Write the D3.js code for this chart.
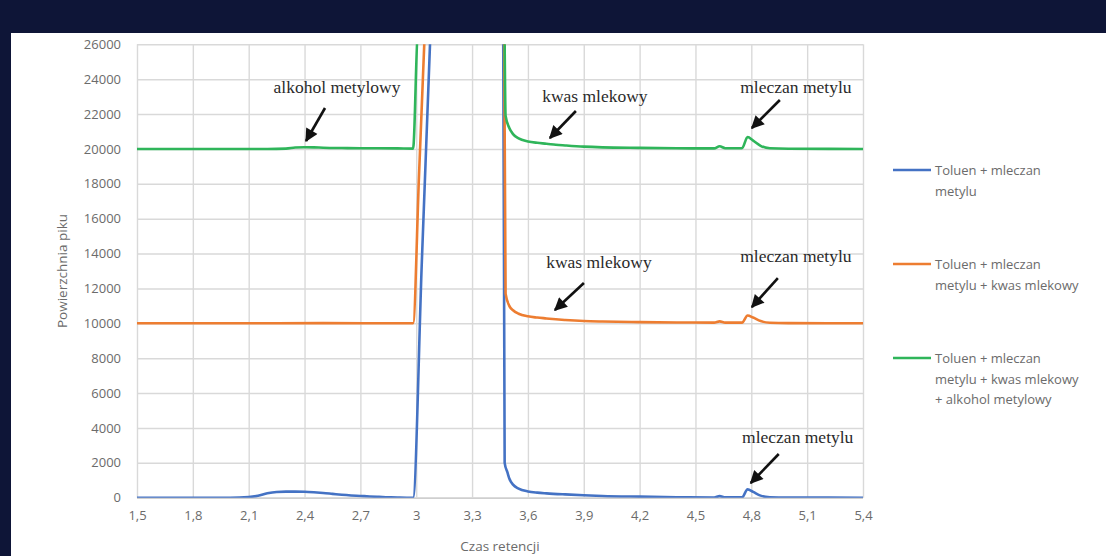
<!DOCTYPE html>
<html>
<head>
<meta charset="utf-8">
<script src="https://cdn.jsdelivr.net/npm/d3@7"></script>
<style>
    body { margin: 0; background: #0e1537; }
    svg { display: block; }
</style>
</head>
<body>
<div id="chart"></div>
<script>
//Data: retention time (min) and peak area for each sample
var seriesNames = [
    ["Toluen + mleczan", "metylu"],
    ["Toluen + mleczan", "metylu + kwas mlekowy"],
    ["Toluen + mleczan", "metylu + kwas mlekowy", "+ alkohol metylowy"]
];
var seriesColors = ["#4472c4", "#ed7d31", "#2fb55a"];

var blueT = [1.5, 2.0, 2.1, 2.15, 2.2, 2.25, 2.3, 2.35, 2.4, 2.45, 2.5, 2.55, 2.6, 2.65, 2.7, 2.75, 2.8, 2.85, 2.9, 2.95, 2.983,
    3.03, 3.074, 3.1, 3.465, 3.475, 3.49, 3.5, 3.52, 3.55, 3.6, 3.65, 3.7, 3.8, 3.9, 4.0, 4.2, 4.4, 4.6, 4.63, 4.66, 4.75, 4.78, 4.81, 4.85, 4.9, 5.0, 5.4];
var blueV = [0, 0, 40, 110, 250, 330, 350, 350, 340, 310, 270, 220, 170, 130, 100, 70, 45, 25, 10, 0, 0,
    13500, 26000, 33500, 33500, 2000, 1450, 1100, 750, 520, 360, 290, 250, 190, 140, 100, 60, 30, 15, 90, 20, 20, 480, 330, 120, 30, 10, 0];

var orangeT = [1.5, 2.0, 2.5, 2.95, 2.983, 3.015, 3.045, 3.06, 3.47, 3.48, 3.5, 3.52, 3.55, 3.6, 3.65, 3.7, 3.75, 3.8, 3.9, 4.0, 4.2, 4.4,
    4.6, 4.63, 4.66, 4.75, 4.78, 4.81, 4.85, 4.9, 5.0, 5.4];
var orangeV = [10000, 10000, 10010, 10000, 10000, 18500, 26500, 30500, 30500, 11700, 11000, 10750, 10550, 10400, 10330, 10280, 10230, 10190, 10130, 10100, 10070, 10050,
    10040, 10110, 10040, 10040, 10450, 10330, 10130, 10030, 10010, 10000];

var greenT = [1.5, 2.2, 2.3, 2.35, 2.4, 2.45, 2.5, 2.6, 2.7, 2.9, 2.983, 3.01, 3.47, 3.48, 3.5, 3.52, 3.55, 3.6, 3.65, 3.7, 3.75, 3.8,
    3.9, 4.0, 4.2, 4.4, 4.6, 4.63, 4.66, 4.75, 4.78, 4.81, 4.85, 4.9, 5.0, 5.4];
var greenV = [20000, 20000, 20020, 20080, 20100, 20090, 20070, 20050, 20040, 20030, 20020, 27000, 30000, 21900, 21200, 20850, 20600, 20430, 20350, 20300, 20240, 20200,
    20130, 20090, 20060, 20040, 20030, 20150, 20040, 20040, 20680, 20480, 20180, 20040, 20010, 20000];

var xTicks = [1.5, 1.8, 2.1, 2.4, 2.7, 3.0, 3.3, 3.6, 3.9, 4.2, 4.5, 4.8, 5.1, 5.4];
var xTickLabels = ["1,5", "1,8", "2,1", "2,4", "2,7", "3", "3,3", "3,6", "3,9", "4,2", "4,5", "4,8", "5,1", "5,4"];
var yTicks = [0, 2000, 4000, 6000, 8000, 10000, 12000, 14000, 16000, 18000, 20000, 22000, 24000, 26000];

//annotations: arrow head at (t, v), label text
var notes = [
    {t: 2.408, v: 20455, text: "alkohol metylowy"},
    {t: 3.718, v: 20627, text: "kwas mlekowy"},
    {t: 4.803, v: 21200, text: "mleczan metylu"},
    {t: 3.745, v: 10763, text: "kwas mlekowy"},
    {t: 4.803, v: 10935, text: "mleczan metylu"},
    {t: 4.797, v: 843, text: "mleczan metylu"}
];
var noteTail = [[19, -33], [26, -27], [28, -28], [29, -27], [26, -29], [28, -29]];
var noteLabel = [[31, -48], [45, -36], [44, -35], [44, -42], [44, -45], [47, -40]];

var series = [
    blueT.map(function (t, i) { return {t: t, v: blueV[i]}; }),
    orangeT.map(function (t, i) { return {t: t, v: orangeV[i]}; }),
    greenT.map(function (t, i) { return {t: t, v: greenV[i]}; })
];

//SVG container
var svg = d3.select("#chart").append("svg")
    .attr("width", 1106)
    .attr("height", 556);

svg.append("rect")
    .attr("x", 11).attr("y", 33)
    .attr("width", 1095).attr("height", 523)
    .style("fill", "white");

var x = d3.scaleLinear().domain([1.5, 5.4]).range([137, 863]);
var y = d3.scaleLinear().domain([0, 26000]).range([497.7, 44.3]);

var defs = svg.append("defs");
defs.append("clipPath").attr("id", "plotClip")
    .append("rect")
    .attr("x", 137).attr("y", 44.3)
    .attr("width", 726).attr("height", 453.4);

defs.append("marker")
    .attr("id", "arrow")
    .attr("viewBox", "0 0 10 10")
    .attr("refX", 9)
    .attr("refY", 5)
    .attr("markerUnits", "userSpaceOnUse")
    .attr("markerWidth", 15)
    .attr("markerHeight", 13)
    .attr("orient", "auto")
    .append("path")
    .attr("d", "M0,0 L10,5 L0,10 z")
    .style("fill", "#111");

//Grid + axes
var yAxis = svg.append("g")
    .attr("transform", "translate(137,0)")
    .call(d3.axisLeft(y).tickValues(yTicks).tickSize(-726).tickPadding(16).tickFormat(function (d) { return d; }));

var xAxis = svg.append("g")
    .attr("transform", "translate(0,497.7)")
    .call(d3.axisBottom(x).tickValues(xTicks).tickSize(-453.4).tickPadding(13)
        .tickFormat(function (d, i) { return xTickLabels[i]; }));

svg.selectAll(".domain").remove();
svg.selectAll(".tick line")
    .style("stroke", "#d9d9d9")
    .style("stroke-width", 1.4);
yAxis.selectAll(".tick").filter(function (d) { return d === 0; }).select("line")
    .style("stroke", "#cfcfcf").style("stroke-width", 1.8);
svg.selectAll(".tick text")
    .style("fill", "#6b6b6b")
    .style("font-family", "'Open Sans', sans-serif")
    .style("font-size", "13px");

//Lines
var line = d3.line()
    .x(function (d) { return x(d.t); })
    .y(function (d) { return y(d.v); })
    .curve(d3.curveMonotoneX);

svg.append("g")
    .attr("clip-path", "url(#plotClip)")
    .selectAll("path")
    .data(series)
    .enter()
    .append("path")
    .attr("d", line)
    .style("fill", "none")
    .style("stroke", function (d, i) { return seriesColors[i]; })
    .style("stroke-width", 2.6)
    .style("stroke-linejoin", "round");

//Annotations
var noteG = svg.append("g");
notes.forEach(function (n, i) {
    var hx = x(n.t), hy = y(n.v);
    noteG.append("line")
        .attr("x1", hx + noteTail[i][0])
        .attr("y1", hy + noteTail[i][1])
        .attr("x2", hx)
        .attr("y2", hy)
        .style("stroke", "#111")
        .style("stroke-width", 2.6)
        .attr("marker-end", "url(#arrow)");
    noteG.append("text")
        .attr("x", hx + noteLabel[i][0])
        .attr("y", hy + noteLabel[i][1])
        .attr("text-anchor", "middle")
        .style("font-family", "'Liberation Serif', 'Times New Roman', serif")
        .style("font-size", "17.5px")
        .style("fill", "#2a2a2a")
        .text(n.text);
});

//Axis titles
svg.append("text")
    .attr("transform", "translate(67,271) rotate(-90)")
    .attr("text-anchor", "middle")
    .style("font-family", "'Open Sans', sans-serif")
    .style("font-size", "13.5px")
    .style("fill", "#6b6b6b")
    .text("Powierzchnia piku");

svg.append("text")
    .attr("x", 500)
    .attr("y", 551)
    .attr("text-anchor", "middle")
    .style("font-family", "'Open Sans', sans-serif")
    .style("font-size", "13.5px")
    .style("fill", "#6b6b6b")
    .text("Czas retencji");

//Legend
var legendY = [170, 264, 358];
var legend = svg.append("g")
    .selectAll("g")
    .data(seriesNames)
    .enter()
    .append("g")
    .attr("transform", function (d, i) { return "translate(893," + legendY[i] + ")"; });

legend.append("line")
    .attr("x1", 0).attr("x2", 38)
    .style("stroke", function (d, i) { return seriesColors[i]; })
    .style("stroke-width", 2.6);

legend.append("text")
    .style("font-family", "'Open Sans', sans-serif")
    .style("font-size", "13px")
    .style("fill", "#6b6b6b")
    .selectAll("tspan")
    .data(function (d) { return d; })
    .enter()
    .append("tspan")
    .attr("x", 42)
    .attr("y", function (d, j) { return 5 + j * 20.5; })
    .text(function (d) { return d; });
</script>
</body>
</html>
